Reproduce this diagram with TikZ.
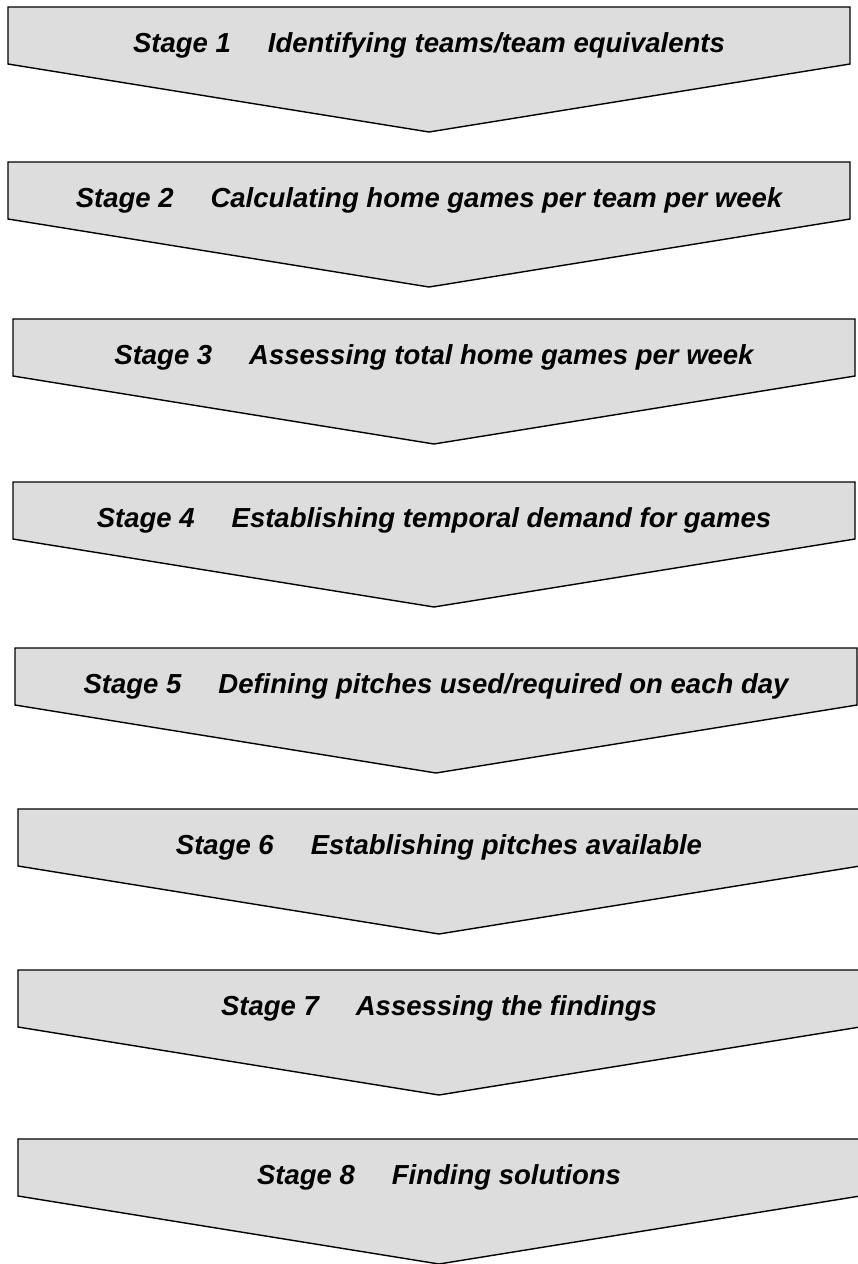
\documentclass[tikz,border=0pt]{standalone}
\usepackage{fontspec}
\setmainfont{Liberation Sans}
\usepackage{tikz}
\usetikzlibrary{positioning}
\definecolor{boxgrey}{RGB}{221,221,221}
\tikzstyle{chevron} = [draw=black, line width=1.4pt, fill=boxgrey, line join=miter]
\tikzstyle{stage} = [anchor=base, inner sep=0pt, font=\fontsize{27.5}{32}\selectfont\bfseries\itshape]
\def\bw{842}
\def\bh{57}
\def\bt{68}
\def\gap{\hspace{37pt}}

\begin{document}
\begin{tikzpicture}[x=1pt, y=-1pt]
\useasboundingbox (0,0) rectangle (857,1264);

\draw [chevron] (8,7) -- ++(\bw,0) -- ++(0,\bh) -- ++(-\bw/2,\bt) -- ++(-\bw/2,-\bt) -- cycle;
\node (s1) [stage] at (429,52) {Stage 1\gap Identifying teams/team equivalents};

\draw [chevron] (8,162) -- ++(\bw,0) -- ++(0,\bh) -- ++(-\bw/2,\bt) -- ++(-\bw/2,-\bt) -- cycle;
\node (s2) [stage] at (429,207) {Stage 2\gap Calculating home games per team per week};

\draw [chevron] (13,319) -- ++(\bw,0) -- ++(0,\bh) -- ++(-\bw/2,\bt) -- ++(-\bw/2,-\bt) -- cycle;
\node (s3) [stage] at (434,364) {Stage 3\gap Assessing total home games per week};

\draw [chevron] (13,482) -- ++(\bw,0) -- ++(0,\bh) -- ++(-\bw/2,\bt) -- ++(-\bw/2,-\bt) -- cycle;
\node (s4) [stage] at (434,527) {Stage 4\gap Establishing temporal demand for games};

\draw [chevron] (15,648) -- ++(\bw,0) -- ++(0,\bh) -- ++(-\bw/2,\bt) -- ++(-\bw/2,-\bt) -- cycle;
\node (s5) [stage] at (436,693) {Stage 5\gap Defining pitches used/required on each day};

\draw [chevron] (18,809) -- ++(\bw,0) -- ++(0,\bh) -- ++(-\bw/2,\bt) -- ++(-\bw/2,-\bt) -- cycle;
\node (s6) [stage] at (439,854) {Stage 6\gap Establishing pitches available};

\draw [chevron] (18,970) -- ++(\bw,0) -- ++(0,\bh) -- ++(-\bw/2,\bt) -- ++(-\bw/2,-\bt) -- cycle;
\node (s7) [stage] at (439,1015) {Stage 7\gap Assessing the findings};

\draw [chevron] (18,1139) -- ++(\bw,0) -- ++(0,\bh) -- ++(-\bw/2,\bt) -- ++(-\bw/2,-\bt) -- cycle;
\node (s8) [stage] at (439,1184) {Stage 8\gap Finding solutions};

\end{tikzpicture}
\end{document}
